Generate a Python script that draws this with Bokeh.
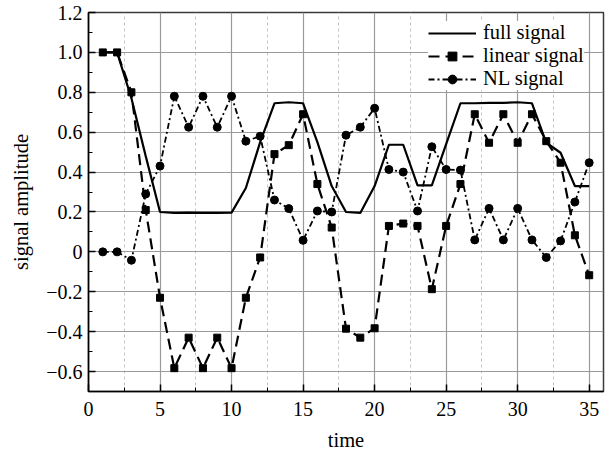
from bokeh.plotting import figure
from bokeh.models import (LinearAxis, FixedTicker, CustomJSTickFormatter, Legend,
                          LegendItem, Range1d, ColumnDataSource, Grid)
from bokeh.embed import file_html
from bokeh.resources import INLINE

# ---- data ----
time = list(range(1, 36))
full_signal = [1.0, 1.0, 0.77, 0.48, 0.2, 0.195, 0.197, 0.195, 0.195, 0.197,
               0.32, 0.55, 0.745, 0.75, 0.745, 0.55, 0.33, 0.2, 0.195, 0.33,
               0.537, 0.537, 0.333, 0.333, 0.54, 0.745, 0.745, 0.747, 0.747, 0.75,
               0.745, 0.547, 0.497, 0.33, 0.33]
linear_signal = [1.0, 1.0, 0.8, 0.21, -0.23, -0.583, -0.43, -0.583, -0.43, -0.583,
                 -0.23, -0.028, 0.49, 0.535, 0.69, 0.34, 0.122, -0.385, -0.43, -0.383,
                 0.13, 0.142, 0.13, -0.187, 0.13, 0.34, 0.69, 0.547, 0.69, 0.547,
                 0.69, 0.555, 0.447, 0.083, -0.117]
nl_signal = [0.0, 0.0, -0.042, 0.29, 0.43, 0.78, 0.625, 0.78, 0.625, 0.78,
             0.555, 0.58, 0.26, 0.217, 0.058, 0.205, 0.2, 0.585, 0.625, 0.72,
             0.413, 0.40, 0.205, 0.527, 0.413, 0.41, 0.06, 0.218, 0.06, 0.218,
             0.06, -0.028, 0.055, 0.25, 0.447]
x_ticks = [0, 5, 10, 15, 20, 25, 30, 35]
y_ticks = [-0.6, -0.4, -0.2, 0.0, 0.2, 0.4, 0.6, 0.8, 1.0, 1.2]
labels = ["full signal", "linear signal", "NL signal"]
x_label = "time"
y_label = "signal amplitude"

FONT = "Liberation Serif"

src = ColumnDataSource(dict(t=time, full=full_signal, lin=linear_signal, nl=nl_signal))

p = figure(frame_width=515, frame_height=379, x_range=Range1d(0, 36),
           y_range=Range1d(-0.7, 1.2), output_backend="svg", toolbar_location=None,
           min_border_left=88, min_border_top=12, min_border_right=6,
           min_border_bottom=58, x_axis_type=None, y_axis_type=None)
p.outline_line_color = "#3a3a3a"
p.outline_line_width = 1.5

x_minor = [x + 2.5 for x in x_ticks]
y_minor = [y + 0.1 for y in y_ticks] + [y_ticks[0] - 0.1]
xt = FixedTicker(ticks=x_ticks, minor_ticks=x_minor)
yt = FixedTicker(ticks=y_ticks, minor_ticks=y_minor)

yfmt = CustomJSTickFormatter(code="""
if (Math.abs(tick) < 1e-9) return "0";
const s = Math.abs(tick).toFixed(1);
return tick < 0 ? "\u2212" + s : s;
""")


def style_axis(ax):
    ax.axis_line_color = "black"
    ax.axis_line_width = 1.5
    ax.major_tick_in = 7
    ax.major_tick_out = 0
    ax.minor_tick_in = 4
    ax.minor_tick_out = 0
    ax.major_tick_line_color = "black"
    ax.minor_tick_line_color = "black"
    ax.major_tick_line_width = 1.5
    ax.minor_tick_line_width = 1
    ax.major_label_text_font = FONT
    ax.major_label_text_font_size = "20px"
    ax.major_label_text_color = "black"
    ax.axis_label_text_font = FONT
    ax.axis_label_text_font_size = "20.5px"
    ax.axis_label_text_font_style = "normal"
    ax.axis_label_text_color = "black"


xb = LinearAxis(ticker=xt, axis_label=x_label)
style_axis(xb)
xb.major_label_standoff = 10
xb.axis_label_standoff = 10
p.add_layout(xb, "below")

yl = LinearAxis(ticker=yt, formatter=yfmt, axis_label=y_label)
style_axis(yl)
yl.major_label_standoff = 6
yl.axis_label_standoff = 11
p.add_layout(yl, "left")

# grids
gx = Grid(dimension=0, ticker=xt, grid_line_color="#9a9a9a", grid_line_width=1.2,
          minor_grid_line_color="#c4c4c4", minor_grid_line_dash="3 3")
gy = Grid(dimension=1, ticker=FixedTicker(ticks=y_ticks), grid_line_color="#9a9a9a",
          grid_line_width=1.2)
p.add_layout(gx)
p.add_layout(gy)

r1 = p.line("t", "full", source=src, line_color="black", line_width=2.2)
r2 = p.line("t", "lin", source=src, line_color="black", line_width=2.2, line_dash="11 6")
s2 = p.scatter("t", "lin", source=src, marker="square", size=7, color="black")
r3 = p.line("t", "nl", source=src, line_color="black", line_width=1.8, line_dash="6 3 2 3")
s3 = p.scatter("t", "nl", source=src, marker="circle", size=8, color="black")

legend = Legend(items=[LegendItem(label=labels[0], renderers=[r1]),
                       LegendItem(label=labels[1], renderers=[r2, s2]),
                       LegendItem(label=labels[2], renderers=[r3, s3])],
                location=(340, 301))
legend.margin = 0
legend.padding = 4
legend.spacing = 0
legend.glyph_width = 48
legend.glyph_height = 22
legend.label_height = 23
legend.label_standoff = 7
legend.label_text_font = FONT
legend.label_text_font_size = "20.5px"
legend.label_text_color = "black"
legend.border_line_color = None
legend.background_fill_color = "white"
legend.background_fill_alpha = 1.0
p.add_layout(legend)

open("out.html", "w").write(file_html(p, INLINE))
